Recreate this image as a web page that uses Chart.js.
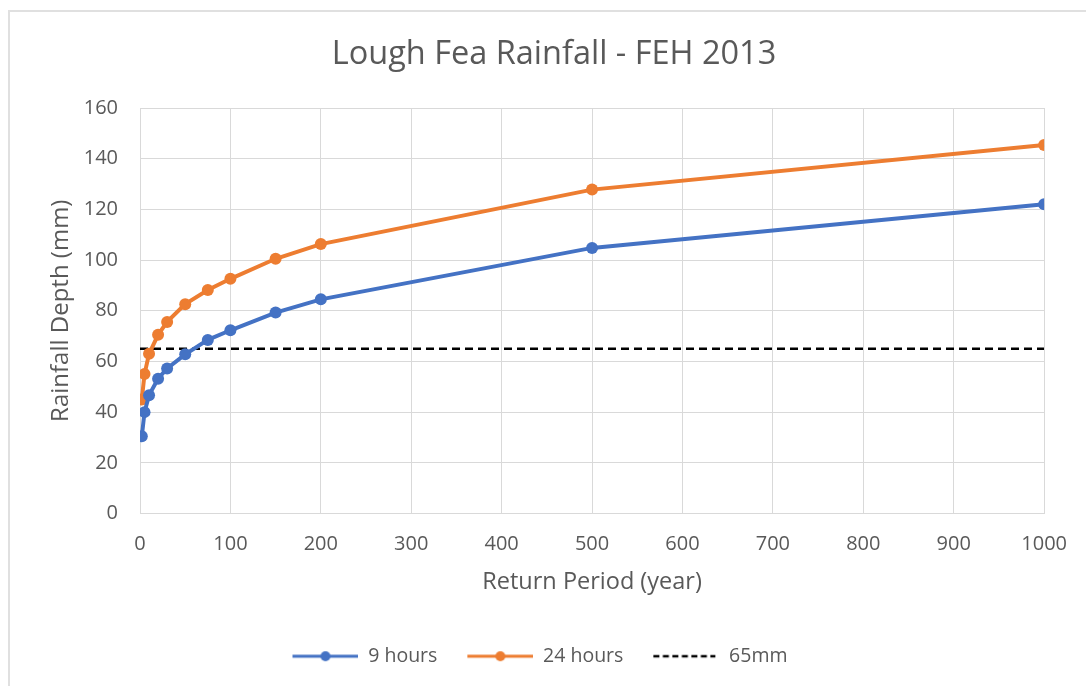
<!DOCTYPE html>
<html>
<head>
<meta charset="utf-8">
<script src="https://cdn.jsdelivr.net/npm/chart.js@4.4.1/dist/chart.umd.min.js"></script>
<style>
  html, body { margin: 0; padding: 0; background: #ffffff; overflow: hidden; }
  #frame { position: absolute; left: 8px; top: 10px; width: 2000px; height: 2000px; border: 2px solid #e0e0e0; box-sizing: border-box; }
  #c { position: absolute; left: 0; top: 0; }
</style>
</head>
<body>
<div id="frame"></div>
<canvas id="c" width="1086" height="686"></canvas>
<script>
const chartTitle = 'Lough Fea Rainfall - FEH 2013';
const xAxisTitle = 'Return Period (year)';
const yAxisTitle = 'Rainfall Depth (mm)';
const returnPeriods = [2, 5, 10, 20, 30, 50, 75, 100, 150, 200, 500, 1000];
const nineHours = [30.5, 40, 46.7, 53.2, 57.2, 62.8, 68.5, 72.3, 79.3, 84.5, 104.8, 122];
const twentyFourHours = [45, 55, 63, 70.5, 75.6, 82.6, 88.2, 92.6, 100.5, 106.3, 127.8, 145.4];
const thresholdValue = 65;
const thresholdRange = [0, 1000];
const seriesNames = ['9 hours', '24 hours', '65mm'];

const BLUE = '#4472C4';
const ORANGE = '#ED7D31';
const TEXT = '#595959';
const GRID = '#D9D9D9';
const FONT = "'Open Sans', sans-serif";

function legendIcon(color, dashed) {
  const c = document.createElement('canvas');
  const W = 84, lead = 18, len = W - lead;
  c.width = W; c.height = 14;
  const g = c.getContext('2d');
  g.strokeStyle = color;
  g.lineWidth = dashed ? 2.5 : 3;
  if (dashed) g.setLineDash([6, 3.5]);
  g.beginPath(); g.moveTo(lead, 7); g.lineTo(dashed ? W - 4 : W, 7); g.stroke();
  if (!dashed) {
    g.fillStyle = color;
    g.beginPath(); g.arc(lead + len / 2, 7, 5, 0, Math.PI * 2); g.fill();
  }
  return c;
}
const icons = [legendIcon(BLUE, false), legendIcon(ORANGE, false), legendIcon('#000000', true)];

const toPoints = (xs, ys) => xs.map((x, i) => ({ x: x, y: ys[i] }));

const titlePlugin = {
  id: 'excelTitle',
  afterDraw(chart) {
    const ctx = chart.ctx;
    ctx.save();
    ctx.fillStyle = TEXT;
    ctx.font = "32.5px " + FONT;
    ctx.textAlign = 'center';
    ctx.textBaseline = 'middle';
    ctx.fillText(chartTitle, 554, 55);
    ctx.restore();
  }
};

new Chart(document.getElementById('c'), {
  type: 'line',
  data: {
    datasets: [
      { label: seriesNames[0], data: toPoints(returnPeriods, nineHours), borderColor: BLUE, backgroundColor: BLUE,
        borderWidth: 4, pointRadius: 6, pointHoverRadius: 6, pointBorderWidth: 0, tension: 0 },
      { label: seriesNames[1], data: toPoints(returnPeriods, twentyFourHours), borderColor: ORANGE, backgroundColor: ORANGE,
        borderWidth: 4, pointRadius: 6, pointHoverRadius: 6, pointBorderWidth: 0, tension: 0 },
      { label: seriesNames[2], data: thresholdRange.map(x => ({ x: x, y: thresholdValue })), borderColor: '#000000',
        backgroundColor: '#000000', borderWidth: 2.5, borderDash: [8, 5], pointRadius: 0, tension: 0 }
    ]
  },
  plugins: [titlePlugin],
  options: {
    responsive: false,
    animation: false,
    events: [],
    layout: { padding: { left: 16, right: 40, top: 108, bottom: 10 } },
    plugins: {
      title: { display: false },
      legend: {
        position: 'bottom',
        labels: {
          color: TEXT, font: { family: FONT, size: 19.5 }, usePointStyle: true, pointStyleWidth: 84, padding: 12,
          generateLabels(chart) {
            return chart.data.datasets.map((ds, i) => ({
              text: ds.label, fillStyle: ds.borderColor, strokeStyle: ds.borderColor, lineWidth: 0,
              pointStyle: icons[i], hidden: false, datasetIndex: i, fontColor: TEXT
            }));
          }
        }
      },
      tooltip: { enabled: false }
    },
    scales: {
      x: {
        type: 'linear', min: 0, max: 1000,
        ticks: { stepSize: 100, color: TEXT, font: { family: FONT, size: 20 }, padding: 19, maxRotation: 0,
                 callback: v => String(v) },
        grid: { color: GRID, lineWidth: 1, drawTicks: false },
        border: { color: GRID, width: 1 },
        title: { display: true, text: xAxisTitle, color: TEXT, font: { family: FONT, size: 23.5 }, padding: { top: 0, bottom: 38 } },
        afterFit(scale) { scale.height = 121; }
      },
      y: {
        min: 0, max: 160,
        ticks: { stepSize: 20, color: TEXT, font: { family: FONT, size: 20 }, padding: 22, callback: v => String(v) },
        grid: { color: GRID, lineWidth: 1, drawTicks: false },
        border: { color: GRID, width: 1 },
        title: { display: true, text: yAxisTitle, color: TEXT, font: { family: FONT, size: 24 }, padding: { top: 31, bottom: 0 } },
        afterFit(scale) { scale.width = 124; }
      }
    }
  }
});
</script>
</body>
</html>
